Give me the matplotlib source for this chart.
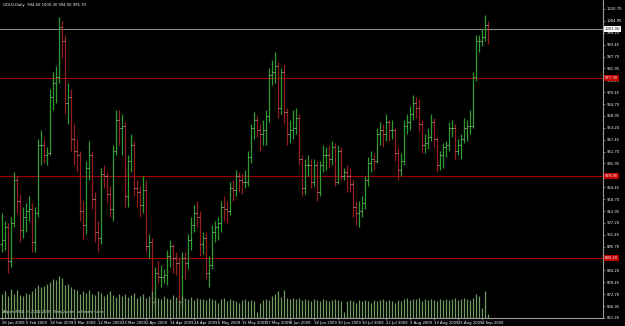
import numpy as np
import matplotlib
matplotlib.use("Agg")
import matplotlib.pyplot as plt

# daily GOLD bars, 26 Jan 2009 .. 9 Sep 2009
opens = [897, 899, 905, 889, 907, 928, 918, 904, 910, 913, 914, 898, 912, 945, 945, 940, 941, 968, 975, 978,
         1002, 995, 965, 968, 948, 942, 940, 913, 906, 934, 940, 919, 903, 900, 931, 930, 921, 914, 942, 957,
         953, 954, 920, 937, 945, 924, 922, 916, 923, 896, 898, 869, 883, 881, 881, 882, 891, 896, 890, 888,
         869, 890, 888, 899, 906, 912, 910, 897, 900, 883, 887, 903, 905, 907, 915, 914, 913, 924, 923, 930,
         928, 927, 927, 939, 953, 957, 952, 950, 952, 959, 979, 980, 983, 963, 980, 961, 950, 952, 953, 958,
         938, 924, 935, 935, 927, 935, 922, 935, 940, 940, 938, 944, 927, 942, 930, 932, 930, 926, 915, 912,
         913, 917, 928, 936, 938, 937, 950, 952, 950, 956, 952, 952, 941, 933, 937, 954, 956, 960, 965, 963,
         955, 945, 946, 949, 956, 948, 935, 940, 944, 945, 953, 953, 942, 945, 948, 953, 954, 954, 978, 995,
         995, 997, 1003]
highs = [912, 908, 907, 910, 932, 930, 921, 915, 917, 920, 917, 915, 948, 952, 948, 944, 972, 980, 983, 1007,
         1005, 998, 975, 972, 955, 948, 942, 918, 937, 947, 942, 922, 908, 934, 935, 932, 925, 945, 962, 962,
         960, 956, 940, 950, 947, 928, 925, 930, 928, 902, 900, 886, 889, 887, 885, 894, 899, 897, 893, 890,
         893, 893, 902, 910, 916, 918, 913, 903, 903, 891, 906, 908, 910, 918, 920, 918, 927, 928, 933, 932,
         931, 933, 942, 955, 961, 959, 955, 957, 962, 982, 986, 990, 985, 982, 984, 963, 957, 962, 963, 960,
         940, 938, 940, 938, 938, 937, 937, 945, 944, 945, 947, 946, 945, 944, 934, 935, 934, 928, 918, 918,
         920, 930, 939, 942, 941, 953, 956, 955, 960, 957, 957, 953, 944, 941, 957, 960, 964, 969, 968, 967,
         957, 950, 953, 960, 958, 949, 942, 946, 947, 956, 957, 955, 948, 950, 958, 957, 962, 980, 998, 998,
         1001, 1008, 1005]
lows = [893, 894, 883, 886, 905, 912, 898, 900, 903, 908, 893, 893, 910, 935, 936, 935, 940, 962, 965, 975,
        987, 960, 955, 942, 935, 932, 908, 899, 902, 928, 914, 898, 893, 897, 924, 917, 910, 908, 940, 945,
        940, 915, 915, 932, 920, 915, 910, 912, 893, 890, 866, 865, 878, 876, 878, 877, 886, 883, 882, 865,
        866, 880, 885, 894, 903, 905, 891, 892, 880, 876, 885, 898, 899, 903, 908, 907, 911, 918, 920, 922,
        921, 924, 925, 936, 948, 949, 942, 945, 945, 956, 974, 975, 958, 960, 955, 945, 946, 948, 950, 935,
        920, 921, 930, 924, 925, 918, 920, 932, 933, 934, 935, 925, 926, 928, 928, 922, 922, 910, 906, 905,
        910, 914, 925, 932, 933, 936, 945, 944, 947, 947, 948, 937, 928, 930, 935, 950, 952, 957, 958, 951,
        941, 941, 943, 947, 944, 932, 933, 934, 939, 942, 949, 938, 940, 938, 946, 947, 950, 953, 976, 990,
        993, 995, 994]
closes = [899, 905, 889, 907, 928, 918, 904, 910, 913, 914, 898, 912, 945, 945, 940, 941, 968, 975, 978, 1002,
          995, 965, 968, 948, 942, 940, 913, 906, 934, 940, 919, 903, 900, 931, 930, 921, 914, 942, 957, 953,
          954, 920, 937, 945, 924, 922, 916, 923, 896, 898, 869, 883, 881, 881, 882, 891, 896, 890, 888, 869,
          890, 888, 899, 906, 912, 910, 897, 900, 883, 887, 903, 905, 907, 915, 914, 913, 924, 923, 930, 928,
          927, 927, 939, 953, 957, 952, 950, 952, 959, 979, 980, 983, 963, 980, 961, 950, 952, 953, 958, 938,
          924, 935, 935, 927, 935, 922, 935, 940, 940, 938, 944, 927, 942, 930, 932, 930, 926, 915, 912, 913,
          917, 928, 936, 938, 937, 950, 952, 950, 956, 952, 952, 941, 933, 937, 954, 956, 960, 965, 963, 955,
          945, 946, 949, 956, 948, 935, 940, 944, 945, 953, 953, 942, 945, 948, 953, 954, 954, 978, 995, 995,
          997, 1003, 1001]
volumes = [22, 24, 20, 26, 22, 25, 21, 20, 23, 22, 24, 27, 30, 28, 29, 31, 33, 35, 34, 38,
           36, 30, 31, 28, 26, 25, 22, 24, 23, 25, 22, 21, 24, 23, 20, 22, 24, 21, 19, 22,
           20, 22, 19, 21, 23, 18, 20, 22, 18, 20, 24, 19, 18, 17, 20, 18, 17, 21, 19, 16,
           20, 18, 17, 19, 16, 18, 17, 17, 16, 18, 17, 16, 14, 17, 18, 15, 17, 16, 15, 14,
           16, 17, 15, 16, 15, 5, 14, 16, 17, 16, 20, 22, 24, 19, 25, 18, 17, 18, 17, 18,
           16, 17, 16, 15, 17, 16, 15, 17, 16, 15, 16, 17, 16, 15, 5, 15, 16, 15, 14, 16,
           15, 16, 15, 14, 16, 15, 16, 17, 15, 16, 15, 14, 16, 15, 17, 18, 16, 17, 17, 18,
           15, 17, 16, 17, 16, 15, 17, 16, 17, 16, 17, 18, 16, 17, 18, 17, 16, 18, 22, 20,
           9, 24, 4]

date_labels = ["26 Jan 2009", "5 Feb 2009", "18 Feb 2009", "2 Mar 2009", "12 Mar 2009", "23 Mar 2009",
               "2 Apr 2009", "14 Apr 2009", "24 Apr 2009", "6 May 2009", "15 May 2009", "27 May 2009",
               "8 Jun 2009", "18 Jun 2009", "30 Jun 2009", "10 Jul 2009", "22 Jul 2009", "3 Aug 2009",
               "13 Aug 2009", "25 Aug 2009", "4 Sep 2009"]
date_bars = [0, 8, 16, 24, 32, 40, 48, 56, 64, 72, 80, 88, 96, 104, 112, 120, 128, 136, 144, 152, 160]

price_ticks = [861.20, 866.95, 872.70, 878.45, 884.20, 889.95, 895.70, 901.45, 907.20, 912.95, 918.70,
               924.45, 930.20, 935.95, 941.70, 947.45, 953.20, 958.95, 964.70, 970.45, 976.20, 981.95,
               987.70, 993.45, 999.20, 1004.95, 1010.70]

bid = 1001.00
levels = [977.30, 929.90, 890.20]

o = np.array(opens); h = np.array(highs); l = np.array(lows); c = np.array(closes)
idx = np.arange(len(c))
up = c >= o

fs = 2.7

fig = plt.figure(figsize=(6.25, 3.26), dpi=100, facecolor='black')
ax = fig.add_axes([0, 8/326, 603/625, 318/326], facecolor='black')
ax.set_xlim(-0.5, 200.5)
ax.set_ylim(861.2, 1015.05)

# volumes on their own scale
axv = ax.twinx()
axv.set_ylim(0, 38 * 318 / 42)
axv.vlines(idx, 0, volumes, colors='#6f9a60', linewidth=0.9)
axv.axis('off')

# horizontal lines
ax.axhline(bid, color='#8c8c8c', linewidth=0.8)
for lv in levels:
    ax.axhline(lv, color='#a00000', linewidth=0.8)

# OHLC bars
cols = np.where(up, '#2f9a2f', '#961e1e')
ax.vlines(idx, l, h, colors=cols, linewidth=0.9, zorder=3)
ax.hlines(o, idx - 0.45, idx, colors='#a8a8a8', linewidth=0.5, zorder=4)
ax.hlines(c, idx, idx + 0.45, colors='#a8a8a8', linewidth=0.5, zorder=4)

for s in ['left', 'top']:
    ax.spines[s].set_visible(False)
for s in ['right', 'bottom']:
    ax.spines[s].set_color('#9a9a9a')
    ax.spines[s].set_linewidth(0.8)

ax.yaxis.tick_right()
ax.set_yticks(price_ticks)
ax.set_yticklabels(['%.2f' % p for p in price_ticks])
ax.tick_params(axis='y', colors='#9a9a9a', labelcolor='white', labelsize=fs, length=1.5, width=0.5, pad=1)
ax.set_xticks(date_bars)
ax.set_xticklabels(date_labels, ha='left')
ax.tick_params(axis='x', colors='#9a9a9a', labelcolor='white', labelsize=fs, length=1.5, width=0.5, pad=0.8)

# price boxes on the axis
for lv in levels:
    ax.text(1.003, lv, '%.2f' % lv, transform=ax.get_yaxis_transform(), fontsize=fs, color='white',
            va='center', ha='left', bbox=dict(boxstyle='square,pad=0.2', fc='#c00000', ec='none'))
ax.text(1.003, bid, '%.2f' % bid, transform=ax.get_yaxis_transform(), fontsize=fs, color='black',
        va='center', ha='left', bbox=dict(boxstyle='square,pad=0.2', fc='white', ec='none'))

ax.text(0.005, 0.99, 'GOLD,Daily  994.60 1000.30 994.00 995.70', transform=ax.transAxes,
        fontsize=fs, color='white', va='top', ha='left')
ax.text(0.005, 0.012, 'Alpari MT4, \u00a9 2001-2009 MetaQuotes Software Corp.', transform=ax.transAxes,
        fontsize=fs, color='white', va='bottom', ha='left', zorder=6)

fig.savefig('out.png', dpi=100, facecolor='black')
